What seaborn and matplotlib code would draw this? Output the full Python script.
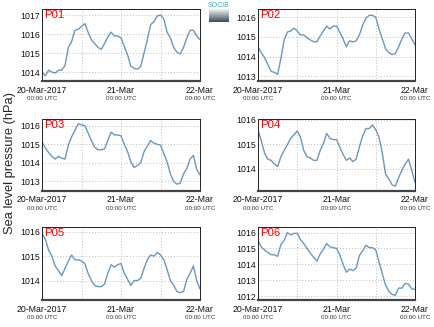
import numpy as np
import pandas as pd
import matplotlib
matplotlib.use("Agg")
import matplotlib.pyplot as plt
import seaborn as sns

hours = list(range(49))

p01 = [1014.0, 1013.8, 1014.1, 1014.0, 1013.95, 1014.1, 1014.1, 1014.35, 1015.3, 1015.6,
       1016.2, 1016.25, 1016.4, 1016.55, 1016.1, 1015.7, 1015.5, 1015.3, 1015.2, 1015.5,
       1015.85, 1016.1, 1015.9, 1015.9, 1015.8, 1015.35, 1014.9, 1014.3, 1014.2, 1014.15,
       1014.3, 1015.0, 1015.7, 1016.5, 1016.65, 1016.95, 1017.0, 1016.8, 1016.1, 1015.8,
       1015.3, 1015.05, 1014.95, 1015.3, 1015.8, 1016.2, 1016.2, 1015.9, 1015.7]
p02 = [1014.5, 1014.2, 1013.95, 1013.6, 1013.25, 1013.2, 1013.1, 1013.9, 1014.85, 1015.25,
       1015.3, 1015.45, 1015.3, 1015.1, 1015.1, 1014.95, 1014.85, 1014.75, 1014.75, 1015.05,
       1015.3, 1015.55, 1015.4, 1015.55, 1015.55, 1015.25, 1014.9, 1014.5, 1014.8, 1014.75,
       1014.8, 1015.1, 1015.6, 1015.95, 1016.1, 1016.1, 1016.0, 1015.4, 1014.9, 1014.4,
       1014.2, 1014.1, 1014.15, 1014.5, 1014.9, 1015.2, 1015.2, 1014.9, 1014.6]
p03 = [1015.13, 1014.8, 1014.55, 1014.35, 1014.2, 1014.35, 1014.25, 1014.2, 1014.95, 1015.4,
       1015.75, 1016.1, 1016.05, 1016.0, 1015.6, 1015.2, 1014.85, 1014.7, 1014.7, 1014.75,
       1015.2, 1015.65, 1015.5, 1015.5, 1015.45, 1015.0, 1014.6, 1014.05, 1013.75, 1013.85,
       1014.0, 1014.6, 1014.9, 1015.2, 1015.05, 1015.0, 1014.95, 1014.5, 1014.05, 1013.4,
       1013.0, 1012.85, 1012.9, 1013.4, 1013.7, 1014.2, 1014.4, 1013.65, 1013.35]
p04 = [1015.6, 1015.15, 1014.65, 1014.4, 1014.35, 1014.2, 1014.1, 1014.5, 1014.75, 1015.0,
       1015.25, 1015.4, 1015.55, 1015.3, 1014.75, 1014.5, 1014.45, 1014.35, 1014.35, 1014.75,
       1015.05, 1015.45, 1015.25, 1015.2, 1015.2, 1014.9, 1014.6, 1014.35, 1014.45, 1014.3,
       1014.4, 1014.9, 1015.35, 1015.65, 1015.65, 1015.8, 1015.6, 1015.3, 1014.65, 1013.8,
       1013.6, 1013.35, 1013.3, 1013.65, 1013.95, 1014.2, 1014.4, 1013.95, 1013.45]
p05 = [1015.95, 1015.7, 1015.25, 1015.0, 1014.6, 1014.4, 1014.2, 1014.5, 1014.8, 1015.05,
       1014.85, 1014.85, 1014.8, 1014.7, 1014.3, 1014.0, 1013.8, 1013.75, 1013.75, 1013.85,
       1014.3, 1014.65, 1014.55, 1014.65, 1014.7, 1014.3, 1014.05, 1013.8, 1014.0, 1014.0,
       1014.1, 1014.5, 1014.85, 1015.05, 1015.0, 1015.15, 1015.05, 1014.85, 1014.45, 1014.0,
       1013.8, 1013.55, 1013.5, 1013.55, 1014.05, 1014.3, 1014.6, 1014.0, 1013.65]
p06 = [1015.5, 1015.1, 1014.9, 1014.75, 1014.6, 1014.6, 1014.5, 1015.25, 1015.5, 1016.0,
       1015.85, 1015.95, 1015.95, 1015.55, 1015.3, 1015.0, 1014.7, 1014.45, 1014.2, 1014.65,
       1014.95, 1015.3, 1015.1, 1015.05, 1015.0, 1014.6, 1014.0, 1013.5, 1013.7, 1013.6,
       1013.75, 1014.55, 1014.85, 1015.2, 1015.05, 1015.05, 1014.9, 1014.15, 1013.4, 1012.7,
       1012.3, 1012.1, 1012.05, 1012.5, 1012.5, 1012.8, 1012.75, 1012.45, 1012.43]

station_names = ["P01", "P02", "P03", "P04", "P05", "P06"]
series = [p01, p02, p03, p04, p05, p06]
yticks_list = [[1014, 1015, 1016, 1017], [1013, 1014, 1015, 1016], [1013, 1014, 1015, 1016],
               [1014, 1015, 1016], [1014, 1015, 1016], [1012, 1013, 1014, 1015, 1016]]
ylims = [(1013.53, 1017.32), (1012.76, 1016.42), (1012.48, 1016.36),
         (1013.1, 1016.04), (1013.2, 1016.2), (1011.75, 1016.35)]
xtick_main = ["20-Mar-2017", "21-Mar", "22-Mar"]
xtick_sub = ["00:00 UTC", "00:00 UTC", "00:00 UTC"]

t0 = pd.Timestamp("2017-03-20 00:00")
times = [t0 + pd.Timedelta(hours=h) for h in hours]

sns.set_theme(style="white")
plt.rcParams['font.family'] = ['Liberation Sans', 'DejaVu Sans']

fig = plt.figure(figsize=(4.34, 3.27), dpi=100)
W, H = 434, 327
col_x = [(42, 200), (258, 415)]
row_y = [(9, 81), (119, 191), (227, 300)]

line_color = "#6a98c0"
major_ticks = [t0 + pd.Timedelta(hours=h) for h in (0, 24, 48)]
grid_ticks = [t0 + pd.Timedelta(hours=h) for h in (0, 12, 24, 36, 48)]

for i, (name, vals) in enumerate(zip(station_names, series)):
    r, c = divmod(i, 2)
    x0, x1 = col_x[c]
    ytop, ybot = row_y[r]
    ax_h = ybot - ytop
    ax = fig.add_axes([x0 / W, 1 - ybot / H, (x1 - x0) / W, ax_h / H])
    df = pd.DataFrame({"time": times, "pressure": vals})
    sns.lineplot(data=df, x="time", y="pressure", ax=ax, color=line_color, linewidth=1.0)
    ax.set_xlim(times[0], times[-1])
    ax.set_ylim(*ylims[i])
    ax.set_yticks(yticks_list[i])
    ax.set_yticklabels([str(v) for v in yticks_list[i]], fontsize=6.3)
    ax.set_xticks(grid_ticks)
    ax.set_xticklabels([])
    ax.set_xlabel("")
    ax.set_ylabel("")
    for gt in grid_ticks[1:-1]:
        ax.axvline(gt, color="#bbbbbb", linestyle=(0, (1, 2)), linewidth=0.7, zorder=0)
    for yt in yticks_list[i]:
        ax.axhline(yt, color="#bbbbbb", linestyle=(0, (1, 2)), linewidth=0.7, zorder=0)
    ax.tick_params(axis="x", direction="in", length=3, width=0.6, colors="#333333", pad=2)
    ax.tick_params(axis="y", direction="in", length=2, width=0.6, pad=1.5, colors="#111111")
    for s in ("top", "left", "right"):
        ax.spines[s].set_color("#222222")
        ax.spines[s].set_linewidth(0.7)
    ax.spines["bottom"].set_color("#444444")
    ax.spines["bottom"].set_linewidth(1.6)
    trans = ax.get_xaxis_transform()
    for mt, lab, sub in zip(major_ticks, xtick_main, xtick_sub):
        ax.text(mt, -4.5 / ax_h, lab, transform=trans, ha="center", va="top",
                fontsize=6.3, color="#111111")
        ax.text(mt, -15 / ax_h, sub, transform=trans, ha="center", va="top",
                fontsize=4.5, color="#333333")
    ax.text(2 / (x1 - x0), 1 - 1.5 / ax_h, name, transform=ax.transAxes, ha="left", va="top",
            fontsize=8.2, color="red")

fig.text(10 / W, 1 - 163 / H, "Sea level pressure (hPa)", rotation=90, ha="center",
         va="center", fontsize=9.3)

# logo
logo_ax = fig.add_axes([209 / W, 1 - 22 / H, 19 / W, 13 / H])
grad = np.linspace(0, 1, 20).reshape(-1, 1)
logo_ax.imshow(grad, aspect="auto", cmap=sns.light_palette("#3b4f5e", as_cmap=True),
               extent=[0, 1, 0, 1])
logo_ax.axis("off")
fig.text(218.5 / W, 1 - 5.5 / H, "SOCIB", ha="center", va="center", fontsize=5, color="#33b5d0")

fig.savefig("out.png", dpi=100)
